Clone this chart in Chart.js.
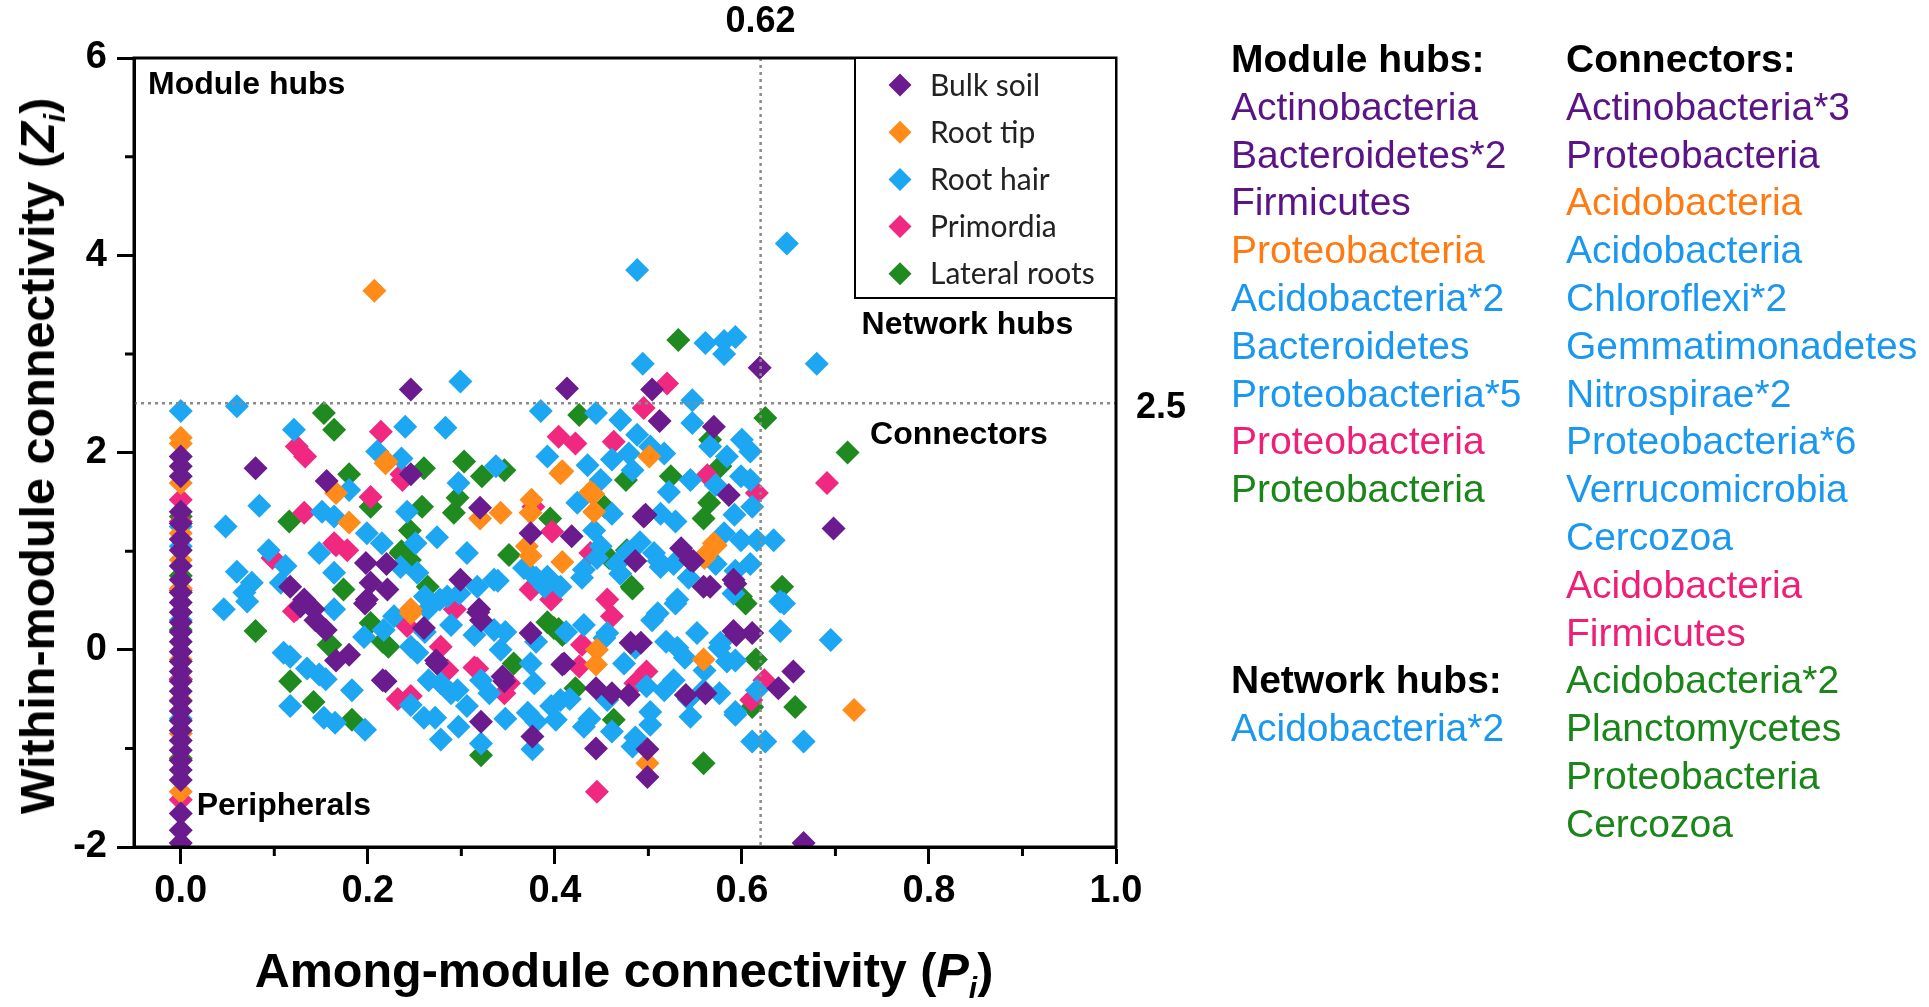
<!DOCTYPE html>
<html lang="en">
<head>
<meta charset="UTF-8">
<title>Zi-Pi plot</title>
<script src="https://cdn.jsdelivr.net/npm/chart.js@4"></script>
<style>
  body { margin: 0; background: #fff; }
  #wrap { position: relative; width: 1929px; height: 1007px; font-family: "Liberation Sans", Arial, sans-serif; color: #000; }
  #chart { position: absolute; left: 0; top: 0; }
  .axis-title { position: absolute; font-weight: bold; font-size: 48.5px; white-space: nowrap; }
  #xTitle { left: 624px; top: 970px; transform: translate(-50%, -50%); }
  #yTitle { left: 37px; top: 456px; transform: translate(-50%, -50%) rotate(-90deg); }
  .axis-title sub { font-size: 0.62em; vertical-align: -0.35em; line-height: 0; }
  .panel { position: absolute; top: 35px; font-size: 39px; line-height: 47.8px; white-space: nowrap; }
  .panel .hd { font-weight: bold; color: #000; }
  #col1 { left: 1231px; }
  #col2 { left: 1566px; }
</style>
</head>
<body>
<div id="wrap">
  <canvas id="chart" width="1929" height="1007"></canvas>
  <div class="axis-title" id="xTitle">Among-module connectivity (<i>P<sub>i</sub></i>)</div>
  <div class="axis-title" id="yTitle">Within-module connectivity (<i>Z<sub>i</sub></i>)</div>
  <div class="panel" id="col1"></div>
  <div class="panel" id="col2"></div>
</div>

<script>
// compartments (legend order)
const groups = ['Bulk soil', 'Root tip', 'Root hair', 'Primordia', 'Lateral roots'];
const markerColors = ['#6a1b8e', '#ff8b1a', '#1da6f2', '#f0287f', '#1f8a1f'];
const textColors = ['#5a1486', '#ff7a10', '#1a98f0', '#ef1f78', '#1a861a'];

// [Pi, Zi]
const bulkSoil = [
  [0,-1.96],[0,-1.83],[0,-1.66],[0,-1.32],[0,-1.22],[0,-1.12],[0,-1.02],[0,-0.92],[0,-0.82],[0,-0.72],
  [0,-0.62],[0,-0.52],[0,-0.42],[0,-0.32],[0,-0.22],[0,-0.12],[0,-0.02],[0,0.08],[0,0.18],[0,0.28],
  [0,0.38],[0,0.48],[0,0.58],[0,0.71],[0,0.85],[0,1.01],[0,1.12],[0,1.28],[0,1.40],[0,1.76],[0,1.86],[0,1.96],
  [0.080,1.84],[0.156,1.71],[0.246,1.78],[0.320,1.44],[0.374,1.18],[0.418,1.15],[0.495,1.35],[0.535,1.03],
  [0.545,0.91],[0.486,0.90],[0.591,0.71],[0.559,0.64],[0.586,1.57],[0.246,2.64],[0.413,2.65],[0.504,2.64],
  [0.512,2.32],[0.570,2.26],[0.619,2.86],[0.698,1.23],[0.198,0.88],[0.220,0.87],[0.117,0.64],[0.132,0.51],
  [0.142,0.41],[0.203,0.68],[0.221,0.61],[0.199,0.51],[0.299,0.71],[0.319,0.41],[0.128,0.44],[0.144,0.30],
  [0.155,0.20],[0.180,-0.05],[0.197,0.47],[0.260,0.22],[0.274,-0.14],[0.219,-0.32],[0.321,-0.73],[0.321,0.30],
  [0.374,0.17],[0.408,-0.15],[0.481,0.07],[0.492,0.07],[0.591,0.19],[0.611,0.17],[0.346,-0.32],[0.376,-0.88],
  [0.444,-0.39],[0.444,-1.00],[0.479,-0.46],[0.540,-0.46],[0.499,-1.01],[0.499,-1.29],[0.639,-0.39],[0.655,-0.22],
  [0.666,-1.96],[0.166,-0.11],[0.216,-0.31],[0.273,-0.11],[0.318,0.38],[0.344,-0.27],[0.410,-0.14],[0.461,-0.44],
  [0.561,-0.44],[0.566,0.64],[0.593,0.67],[0.594,0.15],[0.497,1.37],[0.548,0.90]
];
const rootTip = [
  [0,2.15],[0,2.09],[0,1.69],[0,1.18],[0,0.91],[0,0.62],[0,-0.10],[0,-0.51],[0,-0.85],[0,-1.12],[0,-1.44],
  [0.207,3.64],[0.219,1.89],[0.166,1.59],[0.180,1.29],[0.320,1.33],[0.246,0.41],[0.406,1.79],[0.438,1.60],
  [0.501,1.96],[0.342,1.39],[0.374,1.39],[0.442,1.40],[0.563,0.98],[0.570,1.08],[0.374,0.95],[0.408,0.89],
  [0.370,1.05],[0.445,0.00],[0.444,-0.15],[0.559,-0.10],[0.499,-1.15],[0.720,-0.61],[0.246,0.37],[0.408,1.81],
  [0.441,1.58],[0.220,1.91],[0.572,1.06],[0.560,0.93],[0.375,1.52]
];
const rootHair = [
  [0,2.42],[0,1.25],[0,1.05],[0,0.30],[0,-0.70],
  [0.060,2.47],[0.084,1.46],[0.048,1.25],[0.121,2.23],[0.240,2.26],[0.283,2.25],[0.299,2.72],[0.210,2.01],
  [0.236,1.94],[0.297,1.69],[0.180,1.62],[0.151,1.40],[0.164,1.35],[0.242,1.40],[0.199,1.18],[0.215,1.08],
  [0.251,1.08],[0.274,1.14],[0.148,0.98],[0.094,1.01],[0.112,0.85],[0.164,0.78],[0.060,0.79],[0.076,0.68],
  [0.068,0.58],[0.046,0.41],[0.107,0.68],[0.235,0.84],[0.253,0.78],[0.285,0.54],[0.317,0.64],[0.306,0.98],
  [0.164,0.41],[0.071,0.49],[0.110,-0.03],[0.117,-0.07],[0.117,-0.57],[0.135,-0.19],[0.148,-0.25],[0.155,-0.30],
  [0.183,-0.41],[0.153,-0.69],[0.165,-0.74],[0.197,-0.81],[0.196,0.13],[0.217,0.20],[0.228,0.34],[0.246,0.03],
  [0.253,-0.03],[0.278,-0.34],[0.296,-0.41],[0.321,-0.31],[0.246,-0.56],[0.260,-0.69],[0.272,-0.69],[0.297,-0.78],
  [0.278,-0.91],[0.321,-0.95],[0.264,0.41],
  [0.488,3.85],[0.648,4.12],[0.561,3.11],[0.581,3.13],[0.593,3.17],[0.581,3.00],[0.680,2.90],[0.494,2.90],
  [0.385,2.42],[0.444,2.40],[0.547,2.53],[0.547,2.30],[0.470,2.33],[0.488,2.18],[0.502,2.06],[0.479,1.99],
  [0.517,1.99],[0.461,1.93],[0.392,1.96],[0.435,1.87],[0.337,1.86],[0.449,1.72],[0.483,1.82],[0.566,2.06],
  [0.600,2.13],[0.609,2.01],[0.584,1.96],[0.599,1.76],[0.609,1.72],[0.522,1.60],[0.545,1.72],[0.572,1.67],
  [0.611,1.45],[0.592,1.37],[0.513,1.38],[0.529,1.30],[0.424,1.49],[0.461,1.38],[0.442,1.21],[0.449,1.05],
  [0.581,1.18],[0.599,1.11],[0.616,1.11],[0.634,1.11],[0.506,0.98],[0.513,0.84],[0.641,0.49],[0.392,0.74],
  [0.406,0.64],[0.431,0.81],[0.470,0.77],[0.531,0.51],[0.591,0.57],[0.335,0.71],[0.510,0.37],
  [0.529,0.47],[0.645,0.47],[0.431,0.25],[0.456,0.17],[0.504,0.30],[0.474,-0.14],[0.531,0.02],[0.552,0.17],
  [0.584,-0.12],[0.577,0.07],[0.641,0.19],[0.695,0.10],[0.335,0.20],[0.342,0.00],[0.374,-0.14],[0.378,-0.34],
  [0.371,-0.64],[0.376,-1.01],[0.406,-0.51],[0.401,-0.71],[0.431,-0.78],[0.456,-0.51],[0.498,-0.37],[0.517,-0.41],
  [0.559,-0.41],[0.502,-0.76],[0.483,-0.98],[0.545,-0.68],[0.593,-0.66],[0.616,-0.41],[0.611,-0.93],[0.625,-0.93],
  [0.666,-0.93],
  [0.261,0.54],[0.277,0.51],[0.298,0.57],[0.339,0.70],[0.367,0.83],[0.380,0.73],[0.389,0.64],[0.429,0.73],
  [0.445,0.93],[0.466,0.87],[0.478,1.00],[0.491,1.09],[0.511,0.90],[0.527,0.87],[0.543,0.73],[0.572,0.87],
  [0.593,0.80],[0.609,0.87],[0.261,0.18],[0.289,0.25],[0.314,0.15],[0.347,0.18],[0.380,0.08],[0.412,0.18],
  [0.453,0.12],[0.486,0.02],[0.519,0.08],[0.539,-0.08],[0.560,-0.21],[0.576,0.02],[0.593,-0.11],[0.265,-0.31],
  [0.289,-0.44],[0.306,-0.57],[0.330,-0.44],[0.347,-0.70],[0.380,-0.73],[0.396,-0.57],[0.416,-0.50],[0.437,-0.70],
  [0.461,-0.83],[0.486,-0.89],[0.502,-0.63],[0.527,-0.31],[0.543,-0.50],[0.576,-0.44],[0.593,-0.63]
];
const primordia = [
  [0,1.52],[0,1.30],[0,0.60],[0,-0.30],[0,-1.52],
  [0.124,2.06],[0.133,1.96],[0.214,2.21],[0.237,1.72],[0.203,1.55],[0.132,1.39],[0.164,1.08],[0.178,1.01],
  [0.098,0.93],[0.124,0.41],[0.121,0.39],[0.242,0.24],[0.278,0.03],[0.317,-0.19],[0.246,-0.47],[0.520,2.70],
  [0.495,2.45],[0.404,2.16],[0.422,2.09],[0.463,2.11],[0.563,1.77],[0.616,1.59],[0.691,1.69],[0.377,1.45],
  [0.397,1.20],[0.438,0.98],[0.374,0.61],[0.456,0.51],[0.429,0.05],[0.426,-0.17],[0.346,-0.44],[0.498,-0.22],
  [0.445,-1.44],[0.624,-0.31],[0.610,-0.51],[0.232,-0.50],[0.285,-0.21],[0.486,-0.34],[0.293,0.41],[0.314,-0.18],
  [0.351,-0.34],[0.396,0.51],[0.461,0.34],[0.166,1.06],[0.236,1.78]
];
const lateralRoots = [
  [0,1.35],[0,0.75],[0,0.20],[0,-0.30],[0,-1.10],
  [0.153,2.40],[0.164,2.23],[0.260,1.84],[0.303,1.91],[0.322,1.76],[0.296,1.54],[0.292,1.39],[0.180,1.78],
  [0.203,1.45],[0.116,1.30],[0.258,1.45],[0.245,1.21],[0.235,0.98],[0.245,0.91],[0.174,0.61],[0.264,0.64],
  [0.080,0.19],[0.117,-0.32],[0.142,-0.53],[0.183,-0.71],[0.160,0.05],[0.203,0.27],[0.222,0.03],[0.321,-1.07],
  [0.426,2.38],[0.625,2.35],[0.713,2.00],[0.346,1.82],[0.476,1.72],[0.566,2.13],[0.577,1.86],[0.524,1.76],
  [0.565,1.49],[0.559,1.33],[0.395,1.33],[0.351,0.96],[0.477,1.01],[0.458,0.93],[0.643,0.64],[0.483,0.62],
  [0.532,3.14],[0.399,0.22],[0.408,0.15],[0.604,0.47],[0.615,-0.10],[0.356,-0.14],[0.422,-0.39],[0.463,-0.71],
  [0.559,-1.15],[0.611,-0.58],[0.657,-0.58],[0.453,1.45],[0.392,0.28],[0.404,0.21],[0.482,0.64],[0.236,1.00],
  [0.158,0.05],[0.216,0.08],[0.599,0.54]
];
const series = [bulkSoil, rootTip, rootHair, primordia, lateralRoots];

// axes
const xTicks = [0, 0.2, 0.4, 0.6, 0.8, 1.0];
const xMinor = [0.1, 0.3, 0.5, 0.7, 0.9];
const yTicks = [-2, 0, 2, 4, 6];
const yMinor = [-1, 1, 3, 5];
const piCut = 0.62;
const ziCut = 2.5;

// right-hand key: [text, colour index] (-1 header, null blank)
const moduleHubs = [
  ['Module hubs:', -1], ['Actinobacteria', 0], ['Bacteroidetes*2', 0], ['Firmicutes', 0],
  ['Proteobacteria', 1], ['Acidobacteria*2', 2], ['Bacteroidetes', 2], ['Proteobacteria*5', 2],
  ['Proteobacteria', 3], ['Proteobacteria', 4], null, null, null,
  ['Network hubs:', -1], ['Acidobacteria*2', 2]
];
const connectors = [
  ['Connectors:', -1], ['Actinobacteria*3', 0], ['Proteobacteria', 0], ['Acidobacteria', 1],
  ['Acidobacteria', 2], ['Chloroflexi*2', 2], ['Gemmatimonadetes', 2], ['Nitrospirae*2', 2],
  ['Proteobacteria*6', 2], ['Verrucomicrobia', 2], ['Cercozoa', 2], ['Acidobacteria', 3],
  ['Firmicutes', 3], ['Acidobacteria*2', 4], ['Planctomycetes', 4], ['Proteobacteria', 4], ['Cercozoa', 4]
];

function fillPanel(id, rows) {
  const el = document.getElementById(id);
  rows.forEach(r => {
    const d = document.createElement('div');
    if (!r) { d.innerHTML = '&nbsp;'; }
    else {
      d.textContent = r[0];
      if (r[1] < 0) d.className = 'hd';
      else d.style.color = textColors[r[1]];
    }
    el.appendChild(d);
  });
}
fillPanel('col1', moduleHubs);
fillPanel('col2', connectors);

const boldFont = '"Liberation Sans", Arial, sans-serif';

const decorPlugin = {
  id: 'decor',
  afterDatasetsDraw(chart) {
    const { ctx, chartArea: a, scales: { x, y } } = chart;
    ctx.save();
    // cut-off lines
    ctx.strokeStyle = '#8a8a8a';
    ctx.lineWidth = 2.5;
    ctx.setLineDash([3, 4]);
    const px = x.getPixelForValue(piCut);
    const py = y.getPixelForValue(ziCut);
    ctx.beginPath();
    ctx.moveTo(px, a.top); ctx.lineTo(px, a.bottom);
    ctx.moveTo(a.left, py); ctx.lineTo(a.right, py);
    ctx.stroke();
    ctx.setLineDash([]);

    // zone names
    ctx.fillStyle = '#000';
    ctx.font = 'bold 32px ' + boldFont;
    ctx.textBaseline = 'middle';
    ctx.textAlign = 'left';
    ctx.fillText('Module hubs', x.getPixelForValue(-0.035), y.getPixelForValue(5.72));
    ctx.fillText('Network hubs', x.getPixelForValue(0.728), y.getPixelForValue(3.29));
    ctx.fillText('Connectors', x.getPixelForValue(0.737), y.getPixelForValue(2.18));
    ctx.fillText('Peripherals', x.getPixelForValue(0.017), y.getPixelForValue(-1.59));

    // cut-off values outside the frame
    ctx.font = 'bold 36px ' + boldFont;
    ctx.textAlign = 'center';
    ctx.fillText(String(piCut), px, a.top - 36);
    ctx.textAlign = 'left';
    ctx.fillText(String(ziCut), a.right + 20, py + 5);
    ctx.restore();
  },
  afterDraw(chart) {
    const { ctx, chartArea: a, scales: { x, y } } = chart;
    ctx.save();
    // frame
    ctx.strokeStyle = '#000';
    ctx.lineWidth = 3;
    ctx.strokeRect(a.left, a.top, a.right - a.left, a.bottom - a.top);
    // minor ticks
    ctx.beginPath();
    xMinor.forEach(v => { const p = x.getPixelForValue(v); ctx.moveTo(p, a.bottom); ctx.lineTo(p, a.bottom + 9); });
    yMinor.forEach(v => { const p = y.getPixelForValue(v); ctx.moveTo(a.left, p); ctx.lineTo(a.left - 9, p); });
    ctx.stroke();

    // legend box
    const lw = 261, lh = 240;
    const lx = a.right - lw, ly = a.top;
    ctx.fillStyle = '#fff';
    ctx.fillRect(lx, ly, lw, lh);
    ctx.lineWidth = 2;
    ctx.strokeRect(lx, ly, lw, lh);
    ctx.font = '30px Lato, "Liberation Sans", sans-serif';
    ctx.textBaseline = 'middle';
    ctx.textAlign = 'left';
    groups.forEach((g, i) => {
      const cy = ly + 27 + i * 47.2;
      const cx = lx + 45;
      ctx.fillStyle = markerColors[i];
      ctx.beginPath();
      ctx.moveTo(cx - 11.5, cy); ctx.lineTo(cx, cy - 11.5); ctx.lineTo(cx + 11.5, cy); ctx.lineTo(cx, cy + 11.5);
      ctx.closePath();
      ctx.fill();
      ctx.fillStyle = '#222';
      ctx.fillText(g, lx + 75, cy + 1);
    });
    ctx.restore();
  }
};

new Chart(document.getElementById('chart'), {
  type: 'scatter',
  data: {
    datasets: series.map((s, i) => ({
      label: groups[i],
      data: s.map(([p, z]) => ({ x: p, y: z })),
      pointStyle: 'rectRot',
      pointRadius: 12,
      pointHoverRadius: 12,
      pointBorderWidth: 0,
      borderWidth: 0,
      backgroundColor: markerColors[i],
      borderColor: markerColors[i]
    }))
  },
  options: {
    responsive: false,
    animation: false,
    events: [],
    layout: { padding: { left: 0, top: 58, right: 813, bottom: 0 } },
    plugins: { legend: { display: false }, tooltip: { enabled: false } },
    scales: {
      x: {
        type: 'linear',
        min: -0.05,
        max: 1.0,
        afterBuildTicks: s => { s.ticks = xTicks.map(v => ({ value: v })); },
        afterFit: s => { s.height = 160; },
        ticks: {
          callback: v => v.toFixed(1),
          font: { family: boldFont, size: 38, weight: 'bold' },
          color: '#000',
          padding: 5,
          maxRotation: 0
        },
        grid: { drawOnChartArea: false, tickLength: 17, tickWidth: 3, tickColor: '#000' },
        border: { display: true, width: 3, color: '#000' }
      },
      y: {
        min: -2,
        max: 6,
        afterBuildTicks: s => { s.ticks = yTicks.map(v => ({ value: v })); },
        afterFit: s => { s.width = 134; },
        ticks: {
          callback: v => String(v),
          font: { family: boldFont, size: 38, weight: 'bold' },
          color: '#000',
          padding: 10
        },
        grid: { drawOnChartArea: false, tickLength: 17, tickWidth: 3, tickColor: '#000' },
        border: { display: true, width: 3, color: '#000' }
      }
    }
  },
  plugins: [decorPlugin]
});
</script>
</body>
</html>
